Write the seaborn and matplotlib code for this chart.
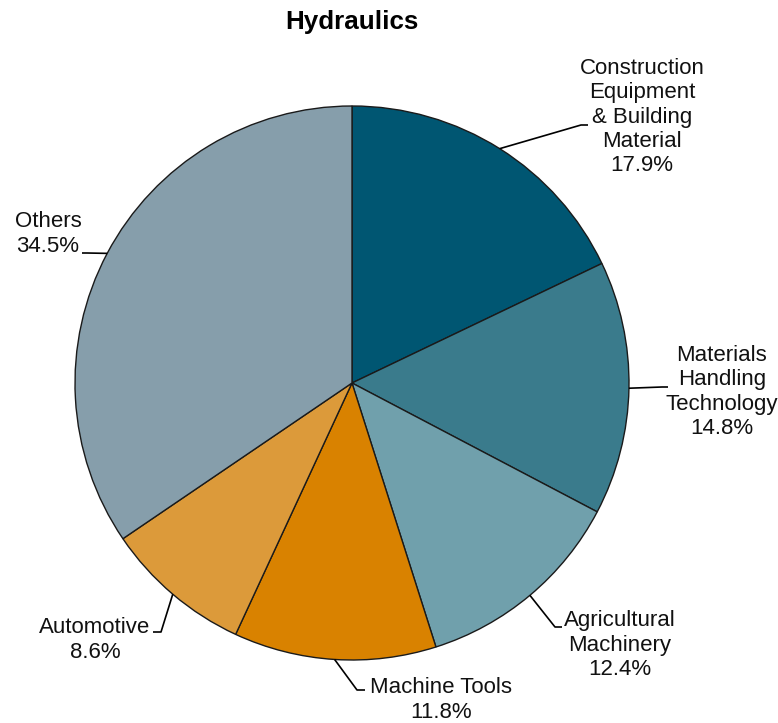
import numpy as np
import seaborn as sns
import matplotlib.pyplot as plt

# Data
segments = [
    'Construction\nEquipment\n& Building\nMaterial',
    'Materials\nHandling\nTechnology',
    'Agricultural\nMachinery',
    'Machine Tools',
    'Automotive',
    'Others',
]
shares = [17.9, 14.8, 12.4, 11.8, 8.6, 34.5]
colors = ['#005672', '#3A7B8C', '#70A0AC', '#D98200', '#DC9A3A', '#869EAB']

sns.set_theme(style='white')
plt.rcParams['font.family'] = ['Liberation Sans', 'DejaVu Sans']

fig = plt.figure(figsize=(7.78, 7.23), dpi=100)
ax = fig.add_axes([0, 0, 1, 1])

# pie in pixel-like coordinates
cx, cy, r = 352, 340, 277
wedges, _ = ax.pie(shares, colors=sns.color_palette(colors), startangle=90,
                   counterclock=False, center=(cx, cy), radius=r,
                   wedgeprops=dict(edgecolor='#1a1a1a', linewidth=1.0))
ax.set_xlim(0, 778)
ax.set_ylim(0, 723)
ax.set_aspect('equal')
ax.axis('off')

# label layout: text centre, elbow point, end of horizontal tick
layout = [
    ((642, 606), (581, 598), (588, 598)),
    ((722, 331), (662, 336), (668, 336)),
    ((620, 78), (555, 96), (562, 96)),
    ((441, 23), (357, 33), (365, 33)),
    ((95, 83), (161, 91), (153, 91)),
    ((48, 489), (87, 470), (82, 470)),
]

for w, name, val, (txt, elbow, end) in zip(wedges, segments, shares, layout):
    ang = np.deg2rad((w.theta1 + w.theta2) / 2)
    p0 = (cx + r * np.cos(ang), cy + r * np.sin(ang))
    ax.plot([p0[0], elbow[0], end[0]], [p0[1], elbow[1], end[1]],
            color='black', lw=1.2, solid_capstyle='butt')
    ax.text(txt[0], txt[1], f'{name}\n{val}%', ha='center', va='center',
            fontsize=16, linespacing=1.2, color='#111111')

fig.text(352 / 778, 1 - 22 / 723, 'Hydraulics', ha='center', va='center',
         fontsize=18.7, fontweight='bold', color='black')

fig.savefig('out.png', dpi=100)
